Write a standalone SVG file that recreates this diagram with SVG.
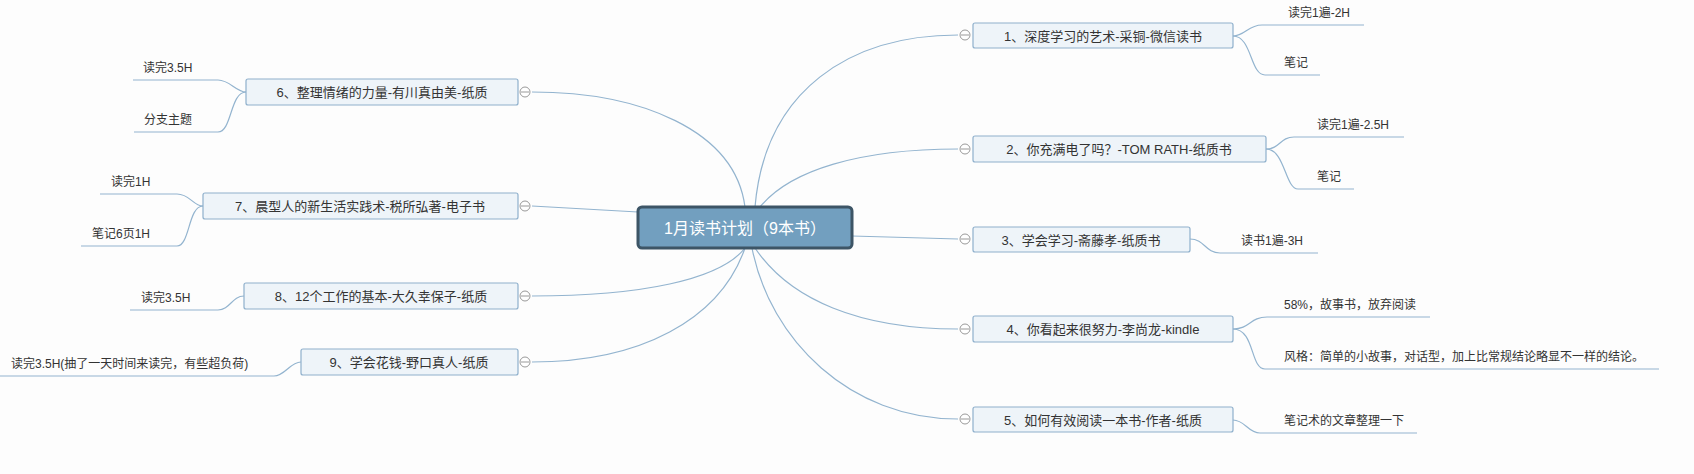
<svg xmlns="http://www.w3.org/2000/svg" width="1694" height="474" viewBox="0 0 1694 474">
<style>
.n{fill:#eef4f9;stroke:#8fb0cc;stroke-width:1.2}
.t{font-family:"Liberation Sans","Noto Sans CJK SC",sans-serif;font-size:13px;fill:#333;text-anchor:middle;dominant-baseline:central}
.c{font-family:"Liberation Sans","Noto Sans CJK SC",sans-serif;font-size:12px;fill:#333;dominant-baseline:central}
.l{fill:none;stroke:#93b4cf;stroke-width:1.2}
.k{fill:#fff;stroke:#999;stroke-width:1}
</style>
<rect width="1694" height="474" fill="#fdfdfd"/>
<g id="connectors">
<path class="l" d="M755 207 C765 90 850 35 958 35"/>
<path class="l" d="M760 207 C790 170 860 149 958 149"/>
<path class="l" d="M852 236 L958 239"/>
<path class="l" d="M755 248 C790 300 860 329 958 329"/>
<path class="l" d="M752 248 C770 340 850 419 958 419"/>
<path class="l" d="M745 207 C735 130 640 92 532 92"/>
<path class="l" d="M638 212 L532 206"/>
<path class="l" d="M745 248 C720 280 640 296 532 296"/>
<path class="l" d="M745 248 C720 320 640 362 532 362"/>
<path class="l" d="M1233 36 C1245 36 1248 25 1262 25 L1364 25"/>
<path class="l" d="M1233 36 C1252 36 1250 75 1265 75 L1320 75"/>
<path class="l" d="M1266 149 C1280 149 1280 137 1294 137 L1404 137"/>
<path class="l" d="M1266 149 C1285 149 1285 189 1298 189 L1354 189"/>
<path class="l" d="M1190 239 C1205 239 1205 253 1220 253 L1318 253"/>
<path class="l" d="M1233 329 C1250 329 1250 317 1267 317 L1430 317"/>
<path class="l" d="M1233 329 C1255 329 1250 369 1265 369 L1659 369"/>
<path class="l" d="M1233 420 C1245 420 1248 433 1260 433 L1417 433"/>
<path class="l" d="M246 92 C236 92 230 80 218 80 L133 80"/>
<path class="l" d="M246 92 C230 92 232 132 218 132 L134 132"/>
<path class="l" d="M203 206 C193 206 190 194 177 194 L100 194"/>
<path class="l" d="M203 206 C188 206 190 246 177 246 L81 246"/>
<path class="l" d="M244 296 C232 296 230 310 218 310 L130 310"/>
<path class="l" d="M301 362 C290 362 285 376 274 376 L0 376"/>
</g>
<g id="center"><rect x="638" y="207" width="214" height="41" rx="4" fill="#729fbf" stroke="#3d5566" stroke-width="3"/><text class="t" x="745" y="228" style="font-size:16px;fill:#fff">1月读书计划（9本书）</text></g>
<g id="n1"><rect class="n" x="973" y="23" width="260" height="25" rx="2"/><text class="t" x="1103" y="36">1、深度学习的艺术-采铜-微信读书</text><circle class="k" cx="965" cy="35" r="5"/><path d="M961 35h8" stroke="#999"/></g>
<g id="n2"><rect class="n" x="973" y="136" width="293" height="26" rx="2"/><text class="t" x="1119" y="149">2、你充满电了吗？-TOM RATH-纸质书</text><circle class="k" cx="965" cy="149" r="5"/><path d="M961 149h8" stroke="#999"/></g>
<g id="n3"><rect class="n" x="973" y="227" width="217" height="25" rx="2"/><text class="t" x="1081" y="240">3、学会学习-斋藤孝-纸质书</text><circle class="k" cx="965" cy="239" r="5"/><path d="M961 239h8" stroke="#999"/></g>
<g id="n4"><rect class="n" x="973" y="316" width="260" height="26" rx="2"/><text class="t" x="1103" y="329">4、你看起来很努力-李尚龙-kindle</text><circle class="k" cx="965" cy="329" r="5"/><path d="M961 329h8" stroke="#999"/></g>
<g id="n5"><rect class="n" x="973" y="407" width="260" height="25" rx="2"/><text class="t" x="1103" y="420">5、如何有效阅读一本书-作者-纸质</text><circle class="k" cx="965" cy="419" r="5"/><path d="M961 419h8" stroke="#999"/></g>
<g id="n6"><rect class="n" x="246" y="79" width="272" height="26" rx="2"/><text class="t" x="382" y="92">6、整理情绪的力量-有川真由美-纸质</text><circle class="k" cx="525" cy="92" r="5"/><path d="M521 92h8" stroke="#999"/></g>
<g id="n7"><rect class="n" x="203" y="193" width="315" height="26" rx="2"/><text class="t" x="360" y="206">7、晨型人的新生活实践术-税所弘著-电子书</text><circle class="k" cx="525" cy="206" r="5"/><path d="M521 206h8" stroke="#999"/></g>
<g id="n8"><rect class="n" x="244" y="283" width="274" height="26" rx="2"/><text class="t" x="381" y="296">8、12个工作的基本-大久幸保子-纸质</text><circle class="k" cx="525" cy="296" r="5"/><path d="M521 296h8" stroke="#999"/></g>
<g id="n9"><rect class="n" x="301" y="349" width="217" height="26" rx="2"/><text class="t" x="409" y="362">9、学会花钱-野口真人-纸质</text><circle class="k" cx="525" cy="362" r="5"/><path d="M521 362h8" stroke="#999"/></g>
<g id="leaves">
<text class="c" x="1288" y="13">读完1遍-2H</text>
<text class="c" x="1284" y="63">笔记</text>
<text class="c" x="1317" y="125">读完1遍-2.5H</text>
<text class="c" x="1317" y="177">笔记</text>
<text class="c" x="1241" y="241">读书1遍-3H</text>
<text class="c" x="1284" y="305">58%，故事书，放弃阅读</text>
<text class="c" x="1284" y="357">风格：简单的小故事，对话型，加上比常规结论略显不一样的结论。</text>
<text class="c" x="1284" y="421">笔记术的文章整理一下</text>
<text class="c" x="143" y="68">读完3.5H</text>
<text class="c" x="144" y="120">分支主题</text>
<text class="c" x="111" y="182">读完1H</text>
<text class="c" x="92" y="234">笔记6页1H</text>
<text class="c" x="141" y="298">读完3.5H</text>
<text class="c" x="11" y="364">读完3.5H(抽了一天时间来读完，有些超负荷)</text>
</g>
</svg>
